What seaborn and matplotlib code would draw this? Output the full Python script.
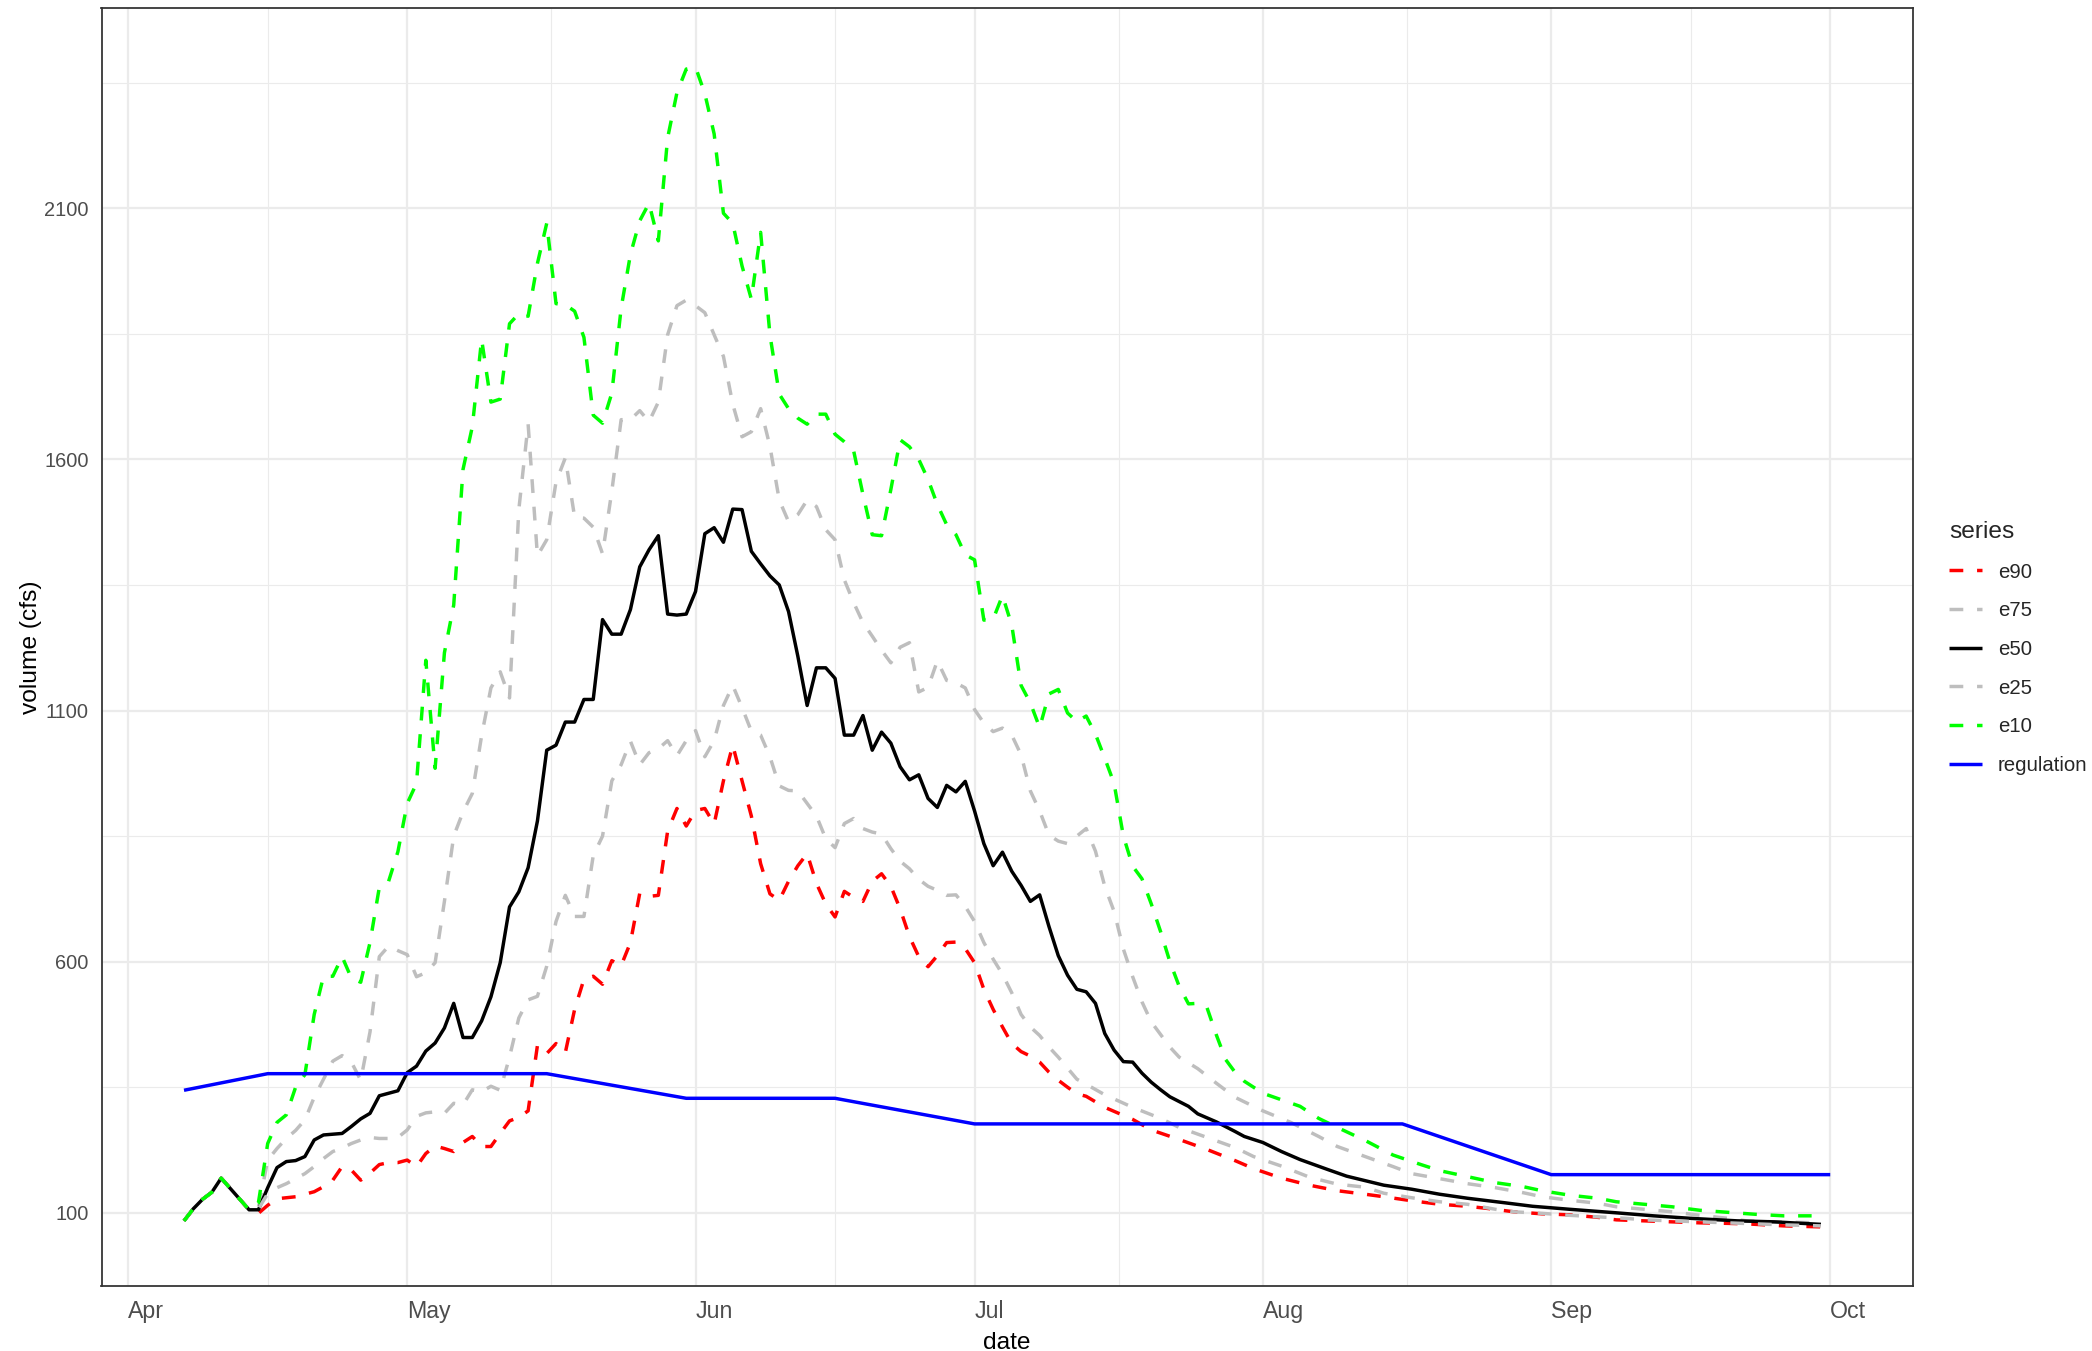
import pandas as pd
import matplotlib
matplotlib.use("Agg")
import matplotlib.pyplot as plt
import matplotlib.dates as mdates
from matplotlib.lines import Line2D
from matplotlib.ticker import FixedLocator
import seaborn as sns

# Day offsets are counted from 1 April; volumes are in cfs.
START = pd.Timestamp("2021-04-01")

e90 = [(6, 84), (7, 108), (8, 127), (9, 141), (10, 169), (13, 106), (14, 99), (15, 115), (16, 128),
       (17, 130), (18, 132), (19, 137), (20, 142), (21, 152), (22, 165), (23, 192), (24, 185), (25, 165),
       (26, 179), (27, 196), (28, 200), (29, 200), (30, 205), (31, 192), (32, 218), (33, 233), (34, 228),
       (35, 222), (36, 240), (37, 252), (38, 232), (39, 232), (40, 258), (41, 283), (42, 290), (43, 303),
       (44, 433), (45, 417), (46, 437), (47, 419), (48, 505), (49, 565), (50, 571), (51, 555), (52, 602),
       (53, 592), (54, 638), (55, 736), (56, 730), (57, 732), (58, 860), (59, 905), (60, 870), (61, 901),
       (62, 905), (63, 874), (64, 960), (65, 1031), (66, 960), (67, 890), (68, 795), (69, 735), (70, 722),
       (71, 760), (72, 791), (73, 815), (74, 756), (75, 715), (76, 689), (77, 740), (78, 728), (79, 720),
       (80, 760), (81, 775), (82, 750), (83, 705), (84, 650), (85, 610), (86, 590), (87, 612), (88, 638),
       (89, 639), (90, 626), (91, 598), (92, 545), (93, 505), (94, 470), (95, 437), (96, 421), (97, 412),
       (98, 400), (99, 380), (100, 364), (101, 350), (102, 337), (103, 332), (105, 310), (108, 286),
       (110, 265), (113, 246), (116, 226), (119, 204), (121, 188), (124, 169), (127, 155), (130, 144),
       (133, 137), (135, 132), (138, 124), (141, 117), (144, 113), (146, 109), (149, 102), (152, 98),
       (155, 96), (158, 91), (160, 86), (163, 84), (169, 80), (172, 79), (174, 78), (178, 74), (182, 72)]

e75 = [(6, 84), (7, 108), (8, 127), (9, 141), (10, 169), (13, 106), (14, 110), (15, 205), (16, 228),
       (17, 248), (18, 264), (19, 285), (20, 330), (21, 366), (22, 402), (23, 413), (24, 400), (25, 364),
       (26, 460), (27, 610), (28, 631), (29, 622), (30, 614), (31, 570), (32, 578), (33, 598), (34, 720),
       (35, 850), (36, 898), (37, 935), (38, 1050), (39, 1145), (40, 1177), (41, 1125), (42, 1500),
       (43, 1670), (44, 1408), (45, 1440), (46, 1555), (47, 1603), (48, 1485), (49, 1483), (50, 1465),
       (51, 1412), (52, 1537), (53, 1679), (54, 1679), (55, 1697), (56, 1675), (57, 1714), (58, 1848),
       (59, 1906), (60, 1917), (61, 1906), (62, 1892), (63, 1848), (64, 1805), (65, 1710), (66, 1645),
       (67, 1655), (68, 1701), (69, 1626), (70, 1519), (71, 1476), (72, 1490), (73, 1519), (74, 1506),
       (75, 1460), (76, 1440), (77, 1360), (78, 1315), (79, 1275), (80, 1248), (81, 1220), (82, 1195),
       (83, 1226), (84, 1235), (85, 1137), (86, 1146), (87, 1199), (88, 1160), (89, 1155), (90, 1145),
       (91, 1102), (92, 1075), (93, 1058), (94, 1065), (95, 1051), (96, 1012), (97, 940), (98, 900),
       (99, 852), (100, 840), (101, 835), (102, 850), (103, 865), (104, 820), (105, 750), (106, 700),
       (107, 625), (108, 570), (109, 520), (110, 480), (111, 455), (112, 430), (113, 410), (115, 387),
       (117, 358), (119, 330), (122, 303), (125, 280), (128, 252), (130, 232), (133, 212), (136, 192),
       (138, 178), (141, 168), (144, 158), (147, 150), (150, 140), (152, 132), (155, 125), (158, 119),
       (160, 112), (163, 107), (166, 102), (169, 95), (172, 89), (174, 84), (177, 82), (182, 80)]

e50 = [(6, 84), (7, 108), (8, 127), (9, 141), (10, 169), (13, 106), (14, 106), (15, 150), (16, 190),
       (17, 202), (18, 204), (19, 212), (20, 245), (21, 255), (23, 258), (24, 272), (25, 287), (26, 298),
       (27, 333), (29, 343), (30, 379), (31, 392), (32, 422), (33, 438), (34, 468), (35, 517), (36, 449),
       (37, 449), (38, 482), (39, 530), (40, 598), (41, 709), (42, 739), (43, 787), (44, 880), (45, 1021),
       (46, 1031), (47, 1077), (48, 1077), (49, 1122), (50, 1122), (51, 1281), (52, 1252), (53, 1252),
       (54, 1301), (55, 1386), (56, 1420), (57, 1448), (58, 1292), (59, 1290), (60, 1292), (61, 1337),
       (62, 1452), (63, 1464), (64, 1435), (65, 1501), (66, 1500), (67, 1417), (68, 1392), (69, 1368),
       (70, 1350), (71, 1297), (72, 1208), (73, 1110), (74, 1185), (75, 1185), (76, 1164), (77, 1051),
       (78, 1051), (79, 1090), (80, 1021), (81, 1057), (82, 1035), (83, 988), (84, 962), (85, 972),
       (86, 925), (87, 907), (88, 951), (89, 938), (90, 959), (91, 900), (92, 835), (93, 791), (94, 818),
       (95, 780), (96, 752), (97, 720), (98, 733), (99, 670), (100, 612), (101, 573), (102, 545),
       (103, 540), (104, 517), (105, 457), (106, 424), (107, 401), (108, 400), (109, 378), (110, 360),
       (111, 345), (112, 331), (114, 312), (115, 297), (117, 281), (119, 262), (120, 252), (122, 240),
       (124, 222), (126, 206), (129, 186), (131, 173), (135, 155), (138, 147), (141, 137), (144, 129),
       (148, 120), (151, 113), (155, 107), (160, 100), (164, 94), (168, 89), (173, 84), (177, 82), (182, 77)]

e25 = [(6, 84), (7, 108), (8, 127), (9, 141), (10, 169), (13, 106), (14, 108), (15, 138), (16, 150),
       (17, 158), (18, 168), (19, 178), (20, 192), (21, 208), (22, 222), (23, 229), (24, 238), (25, 245),
       (26, 250), (27, 248), (28, 248), (29, 250), (30, 265), (31, 292), (32, 299), (33, 301), (34, 298),
       (35, 318), (36, 315), (37, 345), (38, 341), (39, 352), (40, 344), (41, 410), (42, 488), (43, 524),
       (44, 531), (45, 591), (46, 680), (47, 732), (48, 690), (49, 690), (50, 811), (51, 850), (52, 960),
       (53, 992), (54, 1039), (55, 992), (56, 1016), (57, 1024), (58, 1040), (59, 1010), (60, 1040),
       (61, 1060), (62, 1008), (63, 1040), (64, 1110), (65, 1150), (66, 1106), (67, 1059), (68, 1051),
       (69, 1008), (70, 950), (71, 941), (72, 940), (73, 915), (74, 890), (75, 845), (76, 827), (77, 875),
       (78, 885), (79, 865), (80, 858), (81, 854), (82, 825), (83, 800), (84, 785), (85, 764), (86, 750),
       (87, 742), (88, 732), (89, 733), (90, 710), (91, 680), (92, 638), (93, 605), (94, 575), (95, 538),
       (96, 495), (97, 470), (98, 453), (99, 430), (100, 410), (101, 388), (102, 366), (103, 356),
       (105, 335), (108, 310), (111, 288), (113, 270), (116, 250), (119, 230), (121, 212), (124, 193),
       (127, 171), (130, 157), (133, 151), (135, 139), (138, 130), (141, 122), (144, 117), (147, 107),
       (149, 102), (152, 99), (155, 95), (158, 92), (161, 89), (163, 86), (166, 84), (169, 82), (172, 80),
       (175, 78), (178, 76), (182, 74)]

e10 = [(6, 84), (7, 108), (8, 127), (9, 141), (10, 169), (13, 106), (14, 120), (15, 238), (16, 280),
       (17, 295), (18, 350), (19, 375), (20, 495), (21, 571), (22, 571), (23, 610), (24, 567), (25, 559),
       (26, 638), (27, 748), (28, 760), (29, 819), (30, 915), (31, 955), (32, 1200), (33, 985), (34, 1215),
       (35, 1310), (36, 1580), (37, 1665), (38, 1839), (39, 1714), (40, 1720), (41, 1870), (42, 1890),
       (43, 1885), (44, 1990), (45, 2070), (46, 1910), (47, 1908), (48, 1895), (49, 1843), (50, 1688),
       (51, 1672), (52, 1732), (53, 1901), (54, 2008), (55, 2075), (56, 2110), (57, 2035), (58, 2240),
       (59, 2330), (60, 2377), (61, 2381), (62, 2328), (63, 2248), (64, 2090), (65, 2070), (66, 1985),
       (67, 1919), (68, 2052), (69, 1848), (70, 1730), (71, 1701), (72, 1682), (73, 1670), (74, 1690),
       (75, 1690), (76, 1650), (77, 1635), (78, 1617), (79, 1530), (80, 1450), (81, 1448), (82, 1540),
       (83, 1639), (84, 1625), (85, 1600), (86, 1560), (87, 1510), (88, 1470), (89, 1450), (90, 1410),
       (91, 1400), (92, 1280), (93, 1282), (94, 1329), (95, 1270), (96, 1150), (97, 1115), (98, 1066),
       (99, 1133), (100, 1142), (101, 1095), (102, 1078), (103, 1089), (104, 1053), (105, 1005),
       (106, 955), (107, 850), (108, 790), (109, 765), (110, 715), (111, 660), (112, 600), (113, 551),
       (114, 516), (115, 517), (116, 508), (117, 454), (118, 405), (119, 380), (120, 362), (122, 338),
       (124, 325), (126, 312), (128, 288), (130, 270), (133, 244), (136, 215), (139, 196), (141, 184),
       (144, 172), (147, 160), (150, 152), (152, 144), (155, 135), (158, 129), (160, 122), (163, 117),
       (166, 112), (169, 105), (172, 101), (175, 97), (178, 94), (181, 94)]

regulation = [(6, 344), (15, 377), (45, 377), (60, 328), (76, 328), (91, 277), (137, 277), (153, 176),
              (183, 176)]

series_order = ["e90", "e75", "e50", "e25", "e10", "regulation"]
series_points = {"e90": e90, "e75": e75, "e50": e50, "e25": e25, "e10": e10, "regulation": regulation}
series_colors = {"e90": "#FF0000", "e75": "#BEBEBE", "e50": "#000000",
                 "e25": "#BEBEBE", "e10": "#00FF00", "regulation": "#0000FF"}
series_dashes = {"e90": (4, 4), "e75": (4, 4), "e50": "", "e25": (4, 4), "e10": (4, 4), "regulation": ""}

y_breaks = [100, 600, 1100, 1600, 2100]
y_minor = [350, 850, 1350, 1850, 2350]

rows = []
for name in series_order:
    for day, vol in series_points[name]:
        rows.append({"date": START + pd.Timedelta(days=day), "volume": vol, "series": name})
df = pd.DataFrame(rows)

sns.set_style("white")
plt.rcParams["font.family"] = ["Liberation Sans", "DejaVu Sans"]
plt.rcParams["lines.solid_capstyle"] = "butt"
plt.rcParams["lines.dash_capstyle"] = "butt"
plt.rcParams["lines.solid_joinstyle"] = "round"
plt.rcParams["lines.dash_joinstyle"] = "round"

W, H, DPI = 2092, 1351, 160
fig = plt.figure(figsize=(W / DPI, H / DPI), dpi=DPI)
ax = fig.add_axes([101.5 / W, 1 - 1286 / H, (1913 - 101.5) / W, (1286 - 8) / H])

LW = 1.55
sns.lineplot(data=df, x="date", y="volume", hue="series", style="series",
             hue_order=series_order, style_order=series_order,
             palette=series_colors, dashes=series_dashes,
             estimator=None, sort=False, linewidth=LW, legend=False, ax=ax)

x0 = mdates.date2num(START)
ax.set_xlim(x0 - 2.87, x0 + 191.9)
ax.set_ylim(-45.7, 2498.6)
ax.xaxis.set_major_locator(mdates.MonthLocator())
ax.xaxis.set_major_formatter(mdates.DateFormatter("%b"))
ax.xaxis.set_minor_locator(FixedLocator([x0 + d for d in (15, 45.5, 76, 106.5, 137.5, 168)]))
ax.yaxis.set_major_locator(FixedLocator(y_breaks))
ax.yaxis.set_minor_locator(FixedLocator(y_minor))

ax.set_axisbelow(True)
ax.grid(which="major", color="#EBEBEB", linewidth=1.0)
ax.grid(which="minor", color="#EBEBEB", linewidth=0.5)
ax.tick_params(which="major", length=2.2, width=0.7, color="#333333", labelcolor="#4D4D4D")
ax.tick_params(axis="y", which="major", labelsize=9.0, pad=3.6)
ax.tick_params(axis="x", which="major", labelsize=10.4, pad=4.2)
ax.tick_params(which="minor", length=0)
for spine in ax.spines.values():
    spine.set_visible(True)
    spine.set_edgecolor("#333333")
    spine.set_linewidth(0.8)

ax.set_xlabel("date", fontsize=11, color="black", labelpad=3.8)
ax.set_ylabel("volume (cfs)", fontsize=11, color="black", labelpad=0.8)
plt.setp(ax.get_xticklabels(), ha="left")

handles = []
for name in series_order:
    if series_dashes[name]:
        handles.append(Line2D([], [], color=series_colors[name], linewidth=LW, dashes=series_dashes[name]))
    else:
        handles.append(Line2D([], [], color=series_colors[name], linewidth=LW, linestyle="-"))
ax.legend(handles, series_order, title="series", loc="upper left",
          bbox_to_anchor=(1949 / W, 1 - 521 / H), bbox_transform=fig.transFigure,
          frameon=False, fontsize=9.2, title_fontsize=11, handlelength=1.6,
          handletextpad=0.8, labelspacing=0.96, borderpad=0, borderaxespad=0,
          alignment="left")

fig.savefig("out.png", dpi=DPI)
